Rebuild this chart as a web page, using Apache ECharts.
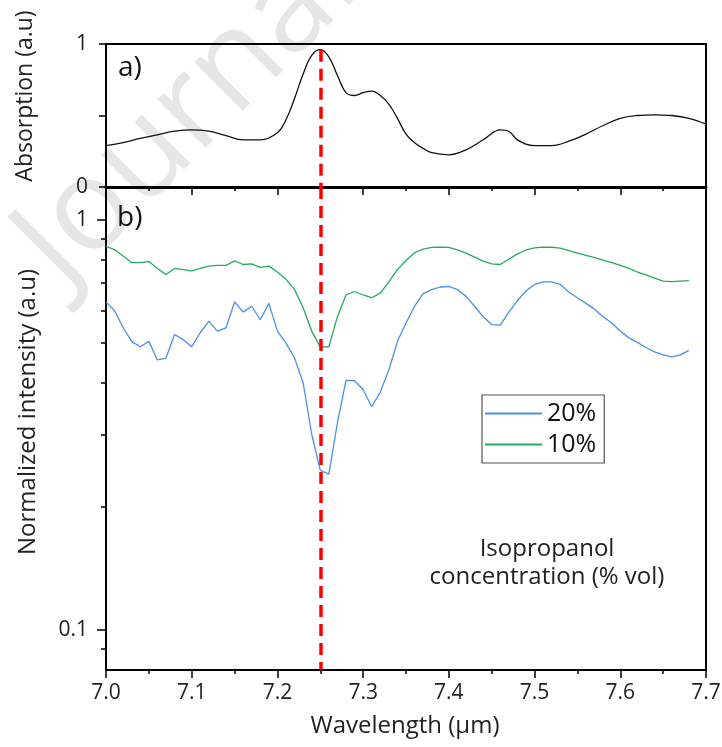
<!DOCTYPE html>
<html>
<head>
<meta charset="utf-8">
<script src="https://cdn.jsdelivr.net/npm/echarts@6/dist/echarts.min.js"></script>
<style>
  html, body { margin: 0; padding: 0; background: #fff; }
  #chart { width: 722px; height: 747px; }
</style>
</head>
<body>
<div id="chart"></div>
<script>
// panel a) absorption spectrum
const wlTop = [7.00, 7.02, 7.04, 7.06, 7.08, 7.10, 7.12, 7.14, 7.16, 7.18, 7.20,
  7.21, 7.22, 7.23, 7.24, 7.25, 7.26, 7.27, 7.28, 7.29, 7.30, 7.31, 7.32, 7.33, 7.34,
  7.35, 7.36, 7.37, 7.38, 7.40, 7.42, 7.44, 7.46, 7.47, 7.48, 7.50, 7.52, 7.54, 7.56,
  7.58, 7.60, 7.62, 7.64, 7.66, 7.68, 7.70]
const absorption = [0.29, 0.31, 0.34, 0.365, 0.39, 0.40, 0.39, 0.36, 0.33, 0.33, 0.38,
  0.47, 0.62, 0.79, 0.92, 0.96, 0.91, 0.78, 0.66, 0.64, 0.66, 0.67, 0.64, 0.58, 0.48,
  0.37, 0.31, 0.27, 0.24, 0.225, 0.26, 0.33, 0.40, 0.39, 0.33, 0.29, 0.29, 0.32, 0.37,
  0.43, 0.48, 0.50, 0.505, 0.50, 0.48, 0.44]

// panel b) normalized transmitted intensity
const wl = [7.00, 7.01, 7.02, 7.03, 7.04, 7.05, 7.06, 7.07, 7.08, 7.09,
  7.10, 7.11, 7.12, 7.13, 7.14, 7.15, 7.16, 7.17, 7.18, 7.19,
  7.20, 7.21, 7.22, 7.23, 7.24, 7.25, 7.26, 7.27, 7.28, 7.29,
  7.30, 7.31, 7.32, 7.33, 7.34, 7.35, 7.36, 7.37, 7.38, 7.39,
  7.40, 7.41, 7.42, 7.43, 7.44, 7.45, 7.46, 7.47, 7.48, 7.49,
  7.50, 7.51, 7.52, 7.53, 7.54, 7.55, 7.56, 7.57, 7.58, 7.59,
  7.60, 7.61, 7.62, 7.63, 7.64, 7.65, 7.66, 7.67, 7.68]
const int20 = [0.63, 0.60, 0.545, 0.505, 0.49, 0.505, 0.455, 0.46, 0.525, 0.51,
  0.49, 0.53, 0.565, 0.535, 0.545, 0.63, 0.595, 0.615, 0.57, 0.625,
  0.535, 0.50, 0.46, 0.40, 0.30, 0.245, 0.24, 0.32, 0.406, 0.405,
  0.385, 0.35, 0.38, 0.43, 0.505, 0.56, 0.615, 0.66, 0.675, 0.685,
  0.687, 0.675, 0.65, 0.615, 0.58, 0.555, 0.553, 0.595, 0.635, 0.67,
  0.695, 0.705, 0.705, 0.695, 0.665, 0.645, 0.625, 0.605, 0.58, 0.56,
  0.535, 0.515, 0.502, 0.488, 0.476, 0.468, 0.463, 0.468, 0.48]
const int10 = [0.86, 0.845, 0.815, 0.785, 0.785, 0.79, 0.76, 0.735, 0.76, 0.755,
  0.75, 0.76, 0.77, 0.773, 0.773, 0.793, 0.777, 0.78, 0.765, 0.77,
  0.745, 0.715, 0.675, 0.61, 0.535, 0.489, 0.49, 0.58, 0.655, 0.668,
  0.655, 0.645, 0.662, 0.705, 0.755, 0.795, 0.83, 0.847, 0.855, 0.857,
  0.855, 0.843, 0.828, 0.81, 0.792, 0.78, 0.777, 0.80, 0.825, 0.843,
  0.853, 0.857, 0.856, 0.852, 0.84, 0.828, 0.818, 0.808, 0.796, 0.785,
  0.773, 0.76, 0.745, 0.733, 0.72, 0.708, 0.706, 0.708, 0.71]

const peakWl = 7.25
const logMajor = [0.1, 1]
const logMinor = [0.09, 0.2, 0.3, 0.4, 0.5, 0.6, 0.7, 0.8, 0.9]

const FONT = '"Open Sans", "Noto Sans", sans-serif'
const zip = (xs, ys) => xs.map((x, i) => [x, ys[i]])

const tickLabel = { color: '#222', fontSize: 21, fontFamily: FONT }
const blackLine = { lineStyle: { color: '#000', width: 2 } }
const tickStyle = { color: '#000', width: 1.5 }
const redDash = {
  silent: true,
  symbol: ['none', 'none'],
  label: { show: false },
  lineStyle: { color: '#ff0000', width: 3.5, type: [12, 7] },
}

const chart = echarts.init(document.getElementById('chart'))

chart.setOption({
  animation: false,
  backgroundColor: '#fff',
  grid: [
    { left: 106, top: 44, width: 600, height: 143, outerBoundsMode: 'none', show: true, borderColor: '#000', borderWidth: 2 },
    { left: 106, top: 187, width: 600, height: 483, outerBoundsMode: 'none', show: true, borderColor: '#000', borderWidth: 2 },
  ],
  xAxis: [
    {
      gridIndex: 0, type: 'value', min: 7.0, max: 7.7, interval: 0.1,
      axisLine: { lineStyle: { color: '#000', width: 3 } },
      axisTick: { length: 8, lineStyle: tickStyle },
      minorTick: { show: true, splitNumber: 2, length: 4, lineStyle: tickStyle },
      axisLabel: { show: false },
      splitLine: { show: false },
    },
    {
      gridIndex: 1, type: 'value', min: 7.0, max: 7.7, interval: 0.1,
      axisLine: blackLine,
      axisTick: { length: 8, lineStyle: tickStyle },
      minorTick: { show: true, splitNumber: 2, length: 4, lineStyle: tickStyle },
      axisLabel: { ...tickLabel, margin: 13, formatter: (v) => v.toFixed(1) },
      splitLine: { show: false },
    },
  ],
  yAxis: [
    {
      gridIndex: 0, type: 'value', min: 0, max: 1, interval: 0.5,
      axisLine: { show: true, ...blackLine },
      axisTick: { length: 7, lineStyle: tickStyle },
      axisLabel: { ...tickLabel, margin: 18, formatter: (v) => (v === 0.5 ? '' : String(v)) },
      splitLine: { show: false },
    },
    {
      gridIndex: 1, type: 'log', logBase: 10, min: 0.08, max: 1.2, position: 'left',
      axisLine: { show: true, ...blackLine },
      axisTick: { length: 9, customValues: logMajor, lineStyle: tickStyle },
      axisLabel: { ...tickLabel, margin: 18, customValues: logMajor },
      splitLine: { show: false },
    },
    {
      gridIndex: 1, type: 'log', logBase: 10, min: 0.08, max: 1.2, position: 'left', offset: 0,
      axisLine: { show: false },
      axisTick: { length: 5, customValues: logMinor, lineStyle: tickStyle },
      axisLabel: { show: false },
      splitLine: { show: false },
    },
  ],
  legend: {
    data: ['20%', '10%'],
    orient: 'vertical',
    left: 482,
    top: 395,
    padding: [5, 8, 5, 3],
    itemGap: 4,
    itemWidth: 57,
    itemHeight: 2,
    icon: 'rect',
    borderColor: '#555',
    borderWidth: 1.2,
    textStyle: { color: '#111', fontSize: 25, fontFamily: FONT, lineHeight: 27 },
  },
  graphic: [
    {
      type: 'text', z: -10, silent: true,
      x: 188, y: 114, rotation: 45 * Math.PI / 180,
      style: {
        text: 'Journal', fill: '#e6e6e6', font: `128px ${FONT}`,
        textAlign: 'center', textVerticalAlign: 'middle',
      },
    },
    {
      type: 'text', x: 118, y: 68, z: 50,
      style: { text: 'a)', fill: '#111', font: `28px ${FONT}`, textVerticalAlign: 'middle' },
    },
    {
      type: 'text', x: 117, y: 218, z: 50,
      style: { text: 'b)', fill: '#111', font: `28px ${FONT}`, textVerticalAlign: 'middle' },
    },
    {
      type: 'text', x: 25, y: 96, rotation: Math.PI / 2, z: 50,
      style: { text: 'Absorption (a.u)', fill: '#222', font: `23px ${FONT}`, textAlign: 'center', textVerticalAlign: 'middle' },
    },
    {
      type: 'text', x: 28, y: 412, rotation: Math.PI / 2, z: 50,
      style: { text: 'Normalized intensity (a.u)', fill: '#222', font: `24px ${FONT}`, textAlign: 'center', textVerticalAlign: 'middle' },
    },
    {
      type: 'text', x: 405, y: 726, z: 50,
      style: { text: 'Wavelength (µm)', fill: '#222', font: `24px ${FONT}`, textAlign: 'center', textVerticalAlign: 'middle' },
    },
    {
      type: 'text', x: 547, y: 563, z: 50,
      style: {
        text: 'Isopropanol\nconcentration (% vol)', fill: '#222', font: `24px ${FONT}`,
        lineHeight: 28, textAlign: 'center', textVerticalAlign: 'middle',
      },
    },
  ],
  series: [
    {
      name: 'Absorption',
      type: 'line',
      xAxisIndex: 0, yAxisIndex: 0,
      data: zip(wlTop, absorption),
      smooth: 0.4,
      showSymbol: false,
      lineStyle: { color: '#111', width: 1.3 },
      markLine: { ...redDash, data: [[{ coord: [peakWl, Math.max(...absorption)] }, { coord: [peakWl, 0] }]] },
    },
    {
      name: '20%',
      type: 'line',
      xAxisIndex: 1, yAxisIndex: 1,
      data: zip(wl, int20),
      showSymbol: false,
      color: '#4a8fe8',
      lineStyle: { color: '#4a8fe8', width: 1.3 },
      markLine: { ...redDash, data: [[{ coord: [peakWl, 1.2] }, { coord: [peakWl, 0.08] }]] },
    },
    {
      name: '10%',
      type: 'line',
      xAxisIndex: 1, yAxisIndex: 1,
      data: zip(wl, int10),
      showSymbol: false,
      color: '#27a862',
      lineStyle: { color: '#27a862', width: 1.3 },
    },
  ],
})
</script>
</body>
</html>
